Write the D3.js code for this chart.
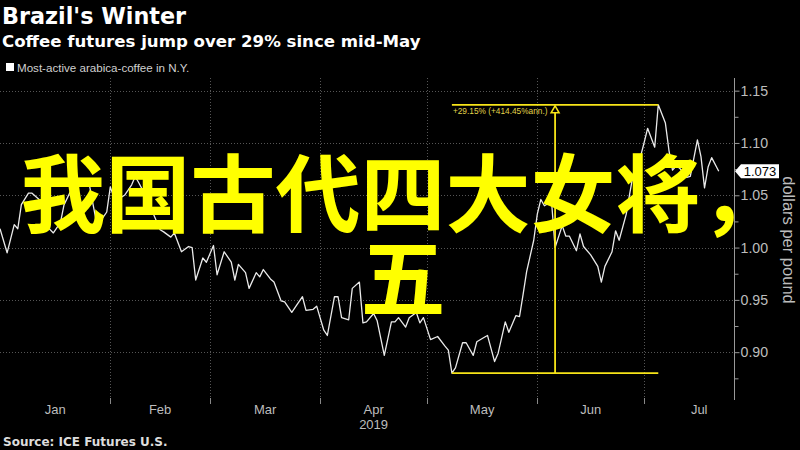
<!DOCTYPE html>
<html><head><meta charset="utf-8">
<script src="https://cdn.jsdelivr.net/npm/d3@7/dist/d3.min.js"></script>
<style>
body{margin:0;background:#000;}
svg{display:block;}
</style></head><body>
<svg id="chart" width="800" height="450"></svg>
<script>
// ---------- DATA ----------
const titleText = "Brazil's Winter";
const subtitleText = "Coffee futures jump over 29% since mid-May";
const legendText = "Most-active arabica-coffee in N.Y.";
const sourceText = "Source: ICE Futures U.S.";
const axisTitle = "dollars per pound";
const yearLabel = "2019";
const annotationText = "+29.15% (+414.45%ann.)";
const overlayLines = ["我国古代四大女将，", "五"];
const yTicks = [0.90, 0.95, 1.00, 1.05, 1.10, 1.15];
const yMinorTicks = [0.875, 0.925, 0.975, 1.025, 1.075, 1.125];
const monthLabels = ["Jan", "Feb", "Mar", "Apr", "May", "Jun", "Jul"];

const dates = [
"2019-01-01","2019-01-03","2019-01-05","2019-01-06","2019-01-07","2019-01-09","2019-01-10","2019-01-12","2019-01-13","2019-01-14",
"2019-01-16","2019-01-17","2019-01-18","2019-01-19","2019-01-20","2019-01-21","2019-01-23","2019-01-24","2019-01-26","2019-01-28",
"2019-01-29","2019-01-31","2019-02-01","2019-02-02","2019-02-04","2019-02-05","2019-02-07","2019-02-08","2019-02-09","2019-02-11",
"2019-02-13","2019-02-15","2019-02-16","2019-02-18","2019-02-19","2019-02-21","2019-02-23","2019-02-24","2019-02-25","2019-02-27",
"2019-02-28","2019-03-02","2019-03-03","2019-03-05","2019-03-07","2019-03-08","2019-03-09","2019-03-11","2019-03-12","2019-03-14",
"2019-03-15","2019-03-16","2019-03-18","2019-03-19","2019-03-21","2019-03-22","2019-03-24","2019-03-25","2019-03-27","2019-03-28",
"2019-03-30","2019-03-31","2019-04-02","2019-04-03","2019-04-05","2019-04-06","2019-04-07","2019-04-09","2019-04-10","2019-04-12",
"2019-04-13","2019-04-14","2019-04-16","2019-04-17","2019-04-19","2019-04-21","2019-04-22","2019-04-23","2019-04-25","2019-04-26",
"2019-04-28","2019-04-29","2019-04-30","2019-05-02","2019-05-04","2019-05-06","2019-05-07","2019-05-08","2019-05-09","2019-05-11",
"2019-05-12","2019-05-14","2019-05-15","2019-05-17","2019-05-18","2019-05-20","2019-05-21","2019-05-23","2019-05-24","2019-05-26",
"2019-05-27","2019-05-28","2019-05-29","2019-05-31","2019-06-01","2019-06-02","2019-06-03","2019-06-05","2019-06-06","2019-06-08",
"2019-06-09","2019-06-10","2019-06-12","2019-06-13","2019-06-14","2019-06-16","2019-06-18","2019-06-19","2019-06-20","2019-06-22",
"2019-06-23","2019-06-24","2019-06-26","2019-06-27","2019-06-28","2019-06-30","2019-07-01","2019-07-02","2019-07-04","2019-07-05",
"2019-07-07","2019-07-08","2019-07-09","2019-07-10","2019-07-11","2019-07-13","2019-07-14","2019-07-16","2019-07-17","2019-07-18",
"2019-07-19","2019-07-20","2019-07-22"
];
const prices = [
1.018,0.995,1.022,1.018,1.041,1.052,1.052,1.046,1.034,1.021,
1.014,1.019,1.024,1.041,1.048,1.055,1.059,1.062,1.062,1.026,
1.024,1.034,1.058,1.048,1.048,1.050,1.060,1.068,1.062,1.049,
1.033,1.017,1.015,1.010,1.014,0.996,1.001,1.000,0.969,0.990,
0.986,1.002,0.974,0.996,0.986,0.969,0.984,0.976,0.961,0.976,
0.972,0.979,0.970,0.967,0.949,0.948,0.938,0.943,0.953,0.940,
0.941,0.944,0.921,0.916,0.953,0.953,0.933,0.931,0.961,0.967,
0.928,0.929,0.937,0.930,0.897,0.929,0.929,0.933,0.924,0.933,
0.938,0.928,0.933,0.912,0.915,0.906,0.902,0.880,0.885,0.909,
0.909,0.897,0.910,0.914,0.916,0.891,0.899,0.929,0.919,0.935,
0.934,0.955,0.977,1.007,1.032,1.046,1.040,1.044,1.000,1.021,
1.011,1.011,0.997,1.013,1.001,0.993,0.982,0.967,0.982,0.996,
1.016,1.007,1.032,1.052,1.071,1.087,1.100,1.114,1.096,1.1365,
1.119,1.093,1.074,1.078,1.076,1.067,1.068,1.103,1.087,1.057,
1.077,1.086,1.073
];

// ---------- CHART ----------
const parse = d3.timeParse("%Y-%m-%d");
const data = dates.map((d, i) => ({date: parse(d), value: prices[i]}));

const svg = d3.select("#chart");
const plot = {left: 0, right: 734, top: 78, bottom: 398};

const x = d3.scaleTime()
  .domain([new Date(2019, 0, 1), new Date(2019, 6, 26)])
  .range([plot.left, plot.right - 1]);
const y = d3.scaleLinear()
  .domain([0.8562, 1.1621])
  .range([plot.bottom, plot.top]);

const grey = "#bdbdbd";
const gridCol = "#555";
const headFont = "DejaVu Sans, Verdana, sans-serif";
const bodyFont = "Liberation Sans, Arial, sans-serif";

// Titles
svg.append("text").attr("x", 2).attr("y", 24)
  .attr("font-family", headFont).attr("font-weight", 700)
  .attr("font-size", 22.3).attr("fill", "#fff").text(titleText);
svg.append("text").attr("x", 2).attr("y", 47)
  .attr("font-family", headFont).attr("font-weight", 700)
  .attr("font-size", 16.6).attr("fill", "#fff").text(subtitleText);

// Legend
svg.append("rect").attr("x", 6).attr("y", 63).attr("width", 8).attr("height", 8).attr("fill", "#fff");
svg.append("text").attr("x", 17).attr("y", 71.5)
  .attr("font-family", bodyFont)
  .attr("font-size", 11.6).attr("fill", "#d0d0d0").text(legendText);

// Grid
const monthStarts = d3.timeMonth.range(new Date(2019, 1, 1), new Date(2019, 6, 27));
svg.append("g").selectAll("line").data(yTicks).join("line")
  .attr("x1", plot.left).attr("x2", plot.right)
  .attr("y1", d => Math.round(y(d)) + 0.5).attr("y2", d => Math.round(y(d)) + 0.5)
  .attr("stroke", gridCol).attr("stroke-dasharray", "1,2");
svg.append("g").selectAll("line").data(monthStarts).join("line")
  .attr("x1", d => Math.round(x(d)) + 0.5).attr("x2", d => Math.round(x(d)) + 0.5)
  .attr("y1", plot.top).attr("y2", plot.bottom)
  .attr("stroke", gridCol).attr("stroke-dasharray", "1,2");

// x-axis month separators & labels
svg.append("g").selectAll("line").data(monthStarts).join("line")
  .attr("x1", d => Math.round(x(d)) + 0.5).attr("x2", d => Math.round(x(d)) + 0.5)
  .attr("y1", plot.bottom).attr("y2", plot.bottom + 6)
  .attr("stroke", "#888");
const monthMid = monthLabels.map((m, i) => {
  const a = new Date(2019, i, 1), b = new Date(2019, i + 1, 1);
  return {label: m, x: (x(a) + x(b)) / 2};
});
svg.append("g").selectAll("text").data(monthMid).join("text")
  .attr("x", d => d.x).attr("y", 414).attr("text-anchor", "middle")
  .attr("font-family", bodyFont).attr("font-size", 13)
  .attr("fill", grey).text(d => d.label);
svg.append("text").attr("x", monthMid[3].x).attr("y", 429).attr("text-anchor", "middle")
  .attr("font-family", bodyFont).attr("font-size", 13)
  .attr("fill", grey).text(yearLabel);

// Right axis
const axisR = d3.axisRight(y).tickValues(yTicks).tickFormat(d3.format(".2f")).tickSize(5).tickPadding(1);
const gR = svg.append("g").attr("transform", `translate(${plot.right + 0.5},0)`).call(axisR);
gR.select(".domain").attr("stroke", "#999").attr("d", `M0,${plot.top}V${plot.bottom + 2}`);
gR.selectAll(".tick line").attr("stroke", "#999");
gR.selectAll(".tick text").attr("fill", grey)
  .attr("font-family", bodyFont).attr("font-size", 14.2);
const axisMinor = d3.axisRight(y).tickValues(yMinorTicks).tickFormat("").tickSize(4);
const gM = svg.append("g").attr("transform", `translate(${plot.right + 0.5},0)`).call(axisMinor);
gM.select(".domain").remove();
gM.selectAll(".tick line").attr("stroke", "#999");

svg.append("text")
  .attr("transform", `translate(783,${(plot.top + plot.bottom) / 2 + 2}) rotate(90)`)
  .attr("text-anchor", "middle")
  .attr("font-family", bodyFont).attr("font-size", 16.5)
  .attr("fill", grey).text(axisTitle);

// Line
const clipId = "plotclip";
svg.append("clipPath").attr("id", clipId).append("rect")
  .attr("x", plot.left).attr("y", plot.top).attr("width", plot.right - plot.left).attr("height", plot.bottom - plot.top);
svg.append("path").datum(data)
  .attr("clip-path", `url(#${clipId})`)
  .attr("fill", "none").attr("stroke", "#eaeaea").attr("stroke-width", 1.3)
  .attr("stroke-linejoin", "round")
  .attr("d", d3.line().x(d => x(d.date)).y(d => y(d.value)));

// Annotation (min -> peak)
const minPt = data.reduce((a, b) => b.value < a.value ? b : a);
const maxPt = data.filter(d => d.date > minPt.date).reduce((a, b) => b.value > a.value ? b : a);
const ax0 = x(minPt.date), ax1 = x(maxPt.date);
const ayTop = y(maxPt.value), ayBot = y(minPt.value);
const axMid = (ax0 + ax1) / 2;
const yellow = "#f7e418";
const ann = svg.append("g");
ann.append("line").attr("x1", ax0).attr("x2", ax1).attr("y1", ayTop).attr("y2", ayTop)
  .attr("stroke", yellow).attr("stroke-width", 1.8);
ann.append("line").attr("x1", ax0).attr("x2", ax1).attr("y1", ayBot).attr("y2", ayBot)
  .attr("stroke", yellow).attr("stroke-width", 1.8);
ann.append("line").attr("x1", axMid).attr("x2", axMid).attr("y1", ayTop + 7).attr("y2", ayBot)
  .attr("stroke", yellow).attr("stroke-width", 1.8);
ann.append("path")
  .attr("d", `M${axMid},${ayTop + 1}L${axMid - 4},${ayTop + 8}L${axMid + 4},${ayTop + 8}Z`)
  .attr("fill", "#000").attr("stroke", yellow).attr("stroke-width", 1.5);
ann.append("text").attr("x", ax0 + 1).attr("y", ayTop + 9.5)
  .attr("font-family", bodyFont).attr("font-size", 8.3)
  .attr("fill", "#e3d54a").text(annotationText);

// Last value tag
const last = data[data.length - 1];
const ly = y(last.value);
const tag = svg.append("g").attr("transform", `translate(${plot.right + 1},${ly})`);
tag.append("path").attr("d", "M0,0L6,-7H44V7H6Z").attr("fill", "#fff");
tag.append("text").attr("x", 25).attr("y", 5).attr("text-anchor", "middle")
  .attr("font-family", bodyFont).attr("font-size", 13)
  .attr("fill", "#000").text(d3.format(".3f")(last.value));

// Source
svg.append("text").attr("x", 3).attr("y", 446)
  .attr("font-family", headFont).attr("font-weight", 700)
  .attr("font-size", 12).attr("fill", "#ddd").text(sourceText);

// Overlay watermark text
svg.append("g").selectAll("text").data(overlayLines).join("text")
  .attr("x", 403).attr("y", (d, i) => 226 + i * 84).attr("text-anchor", "middle")
  .attr("font-family", "Noto Sans CJK SC, sans-serif").attr("font-weight", 700)
  .attr("font-size", 85).attr("fill", "#ffff00").text(d => d);
</script>
</body></html>
